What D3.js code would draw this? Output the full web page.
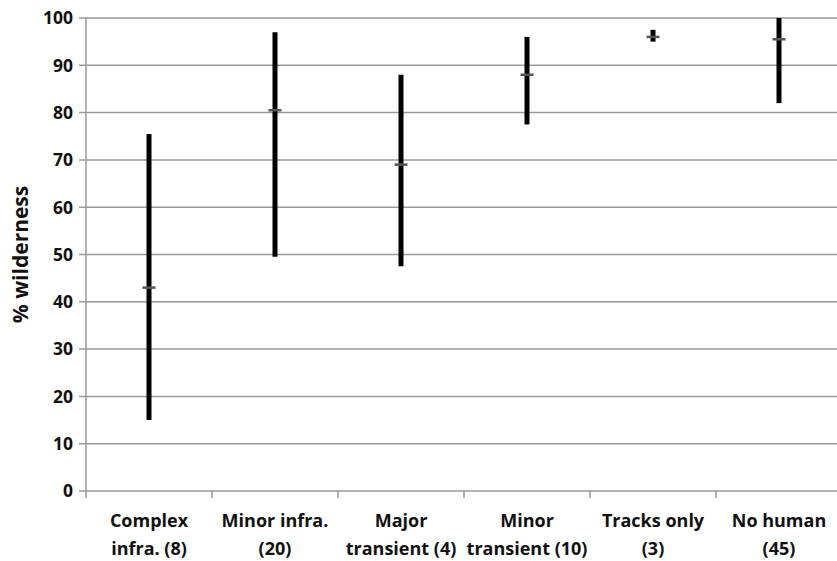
<!DOCTYPE html>
<html><head><meta charset="utf-8">
<script src="https://cdn.jsdelivr.net/npm/d3@7"></script>
<style>body{margin:0;background:#fff}svg{display:block}text{font-family:"Open Sans",Lato,sans-serif;font-weight:bold;fill:#111}</style>
</head><body>
<svg id="c" width="837" height="561"></svg>
<script>
const categories = ["Complex|infra. (8)","Minor infra.|(20)","Major|transient (4)","Minor|transient (10)","Tracks only|(3)","No human|(45)"];
const highs = [75.5, 97, 88, 96, 97.5, 100];
const lows  = [15, 49.5, 47.5, 77.5, 95, 82];
const means = [43, 80.5, 69, 88, 96, 95.5];
const yTicks = [0,10,20,30,40,50,60,70,80,90,100];

const svg = d3.select("#c");
const m = {left:86, right:842, top:18, bottom:491};
const x = d3.scaleBand().domain(categories).range([m.left, m.right]);
const y = d3.scaleLinear().domain([0,100]).range([m.bottom, m.top]);

svg.append("g").selectAll("line").data(yTicks).join("line")
  .attr("x1", m.left-7).attr("x2", m.right)
  .attr("y1", d=>y(d)).attr("y2", d=>y(d))
  .attr("stroke","#9a9a9a").attr("stroke-width",1.5);
svg.append("line").attr("x1",m.left).attr("x2",m.left).attr("y1",y(100)).attr("y2",y(0))
  .attr("stroke","#9a9a9a").attr("stroke-width",1.5);
const bounds = categories.map(c=>x(c)).concat([m.right]);
svg.append("g").selectAll("line").data(bounds).join("line")
  .attr("x1",d=>d).attr("x2",d=>d).attr("y1",y(0)).attr("y2",y(0)+7)
  .attr("stroke","#9a9a9a").attr("stroke-width",1.5);
svg.append("g").selectAll("text").data(yTicks).join("text")
  .attr("x", 73).attr("y", d=>y(d)).attr("dy","0.36em")
  .attr("text-anchor","end").attr("font-size",17.5).text(d=>d);
svg.append("text").attr("transform",`translate(28,${(y(0)+y(100))/2}) rotate(-90)`)
  .attr("text-anchor","middle").attr("font-size",21).text("% wilderness");
const cl = svg.append("g").selectAll("text").data(categories).join("text")
  .attr("x", d=>x(d)+x.bandwidth()/2).attr("y", 527)
  .attr("text-anchor","middle").attr("font-size",18);
cl.each(function(d){
  const parts = d.split("|");
  d3.select(this).selectAll("tspan").data(parts).join("tspan")
    .attr("x", x(d)+x.bandwidth()/2).attr("dy",(p,i)=>i===0?0:28).text(p=>p);
});
const cx = i => x(categories[i]) + x.bandwidth()/2;
svg.append("g").selectAll("line").data(categories).join("line")
  .attr("x1",(d,i)=>cx(i)).attr("x2",(d,i)=>cx(i))
  .attr("y1",(d,i)=>y(highs[i])).attr("y2",(d,i)=>y(lows[i]))
  .attr("stroke","#000").attr("stroke-width",5);
svg.append("g").selectAll("line").data(categories).join("line")
  .attr("x1",(d,i)=>cx(i)-6.5).attr("x2",(d,i)=>cx(i)+6.5)
  .attr("y1",(d,i)=>y(means[i])).attr("y2",(d,i)=>y(means[i]))
  .attr("stroke","#555").attr("stroke-width",2.5);
</script>
</body></html>
